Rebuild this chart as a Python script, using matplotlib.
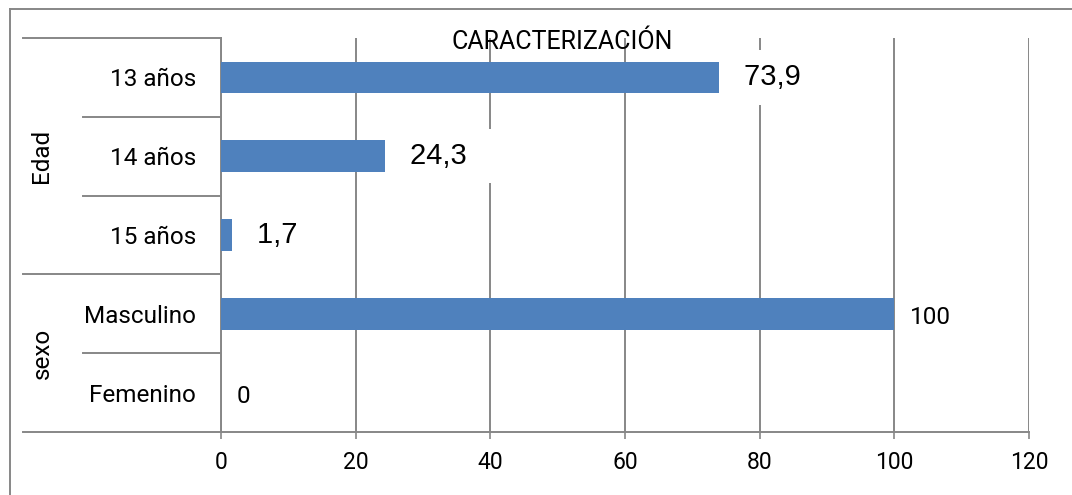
import matplotlib
matplotlib.use('Agg')
import matplotlib.pyplot as plt
from matplotlib.lines import Line2D
import matplotlib.transforms as mtransforms

plt.rcParams['font.family'] = ['Roboto', 'DejaVu Sans']

# Data (bottom to top)
categories = ['Femenino', 'Masculino', '15 años', '14 años', '13 años']
values = [0, 100, 1.7, 24.3, 73.9]
value_labels = ['0', '100', '1,7', '24,3', '73,9']
big_label = [False, False, True, True, True]
groups = ['sexo', 'Edad']
group_centers = [0.5, 3]
x_ticks = [0, 20, 40, 60, 80, 100, 120]

W, H = 1072, 495
fig = plt.figure(figsize=(W / 100, H / 100), dpi=100)
ax = fig.add_axes([221 / W, 1 - 432 / H, (1029 - 221) / W, (432 - 38) / H])

grid_col = '#878787'
bar_col = '#4F81BD'
fs = 16.5

ypos = list(range(len(categories)))
ax.barh(ypos, values, height=0.4, color=bar_col, zorder=3)

ax.set_xlim(0, 120)
ax.set_ylim(-0.5, len(categories) - 0.5)
ax.set_xticks(x_ticks)
ax.set_xticklabels([str(t) for t in x_ticks], fontsize=fs)
ax.set_yticks(ypos)
ax.set_yticklabels(categories, fontsize=17.5)
ax.tick_params(axis='y', length=0, pad=18)
ax.tick_params(axis='x', length=5, width=1.2, color=grid_col, pad=9)
ax.set_axisbelow(True)
ax.xaxis.grid(True, color=grid_col, linewidth=1.4)
for s in ['top', 'right']:
    ax.spines[s].set_visible(False)
for s in ['left', 'bottom']:
    ax.spines[s].set_color(grid_col)
    ax.spines[s].set_linewidth(1.4)

# data labels
for y, v, lab, big in zip(ypos, values, value_labels, big_label):
    if big:
        ax.annotate(lab + '  ', (v, y), xytext=(18, 0), textcoords='offset points',
                    ha='left', va='center', fontsize=21, family='Liberation Sans',
                    bbox=dict(boxstyle='square,pad=0.45', fc='white', ec='none'),
                    zorder=2.5)
    else:
        ax.annotate(lab, (v, y), xytext=(11, -3), textcoords='offset points',
                    ha='left', va='center', fontsize=17.5, zorder=2.5)

# category axis separators (x in figure fraction, y in data)
trans = mtransforms.blended_transform_factory(fig.transFigure, ax.transData)
seps = [(-0.5, 23), (0.5, 83), (1.5, 23), (2.5, 83), (3.5, 83), (4.5, 23)]
for yy, x0 in seps:
    fig.add_artist(Line2D([x0 / W, 221 / W], [yy, yy], transform=trans,
                          color=grid_col, linewidth=1.4))

for g, c in zip(groups, group_centers):
    fig.text(42 / W, c, g, transform=trans, rotation=90, ha='center',
             va='center', fontsize=17.5)

# title
fig.text(562 / W, 1 - 42 / H, 'CARACTERIZACIÓN', ha='center', va='center',
         fontsize=18)

# outer chart border (top and left visible)
fig.add_artist(Line2D([10 / W, 1.0], [1 - 9 / H, 1 - 9 / H],
                      transform=fig.transFigure, color=grid_col, linewidth=1.4))
fig.add_artist(Line2D([10 / W, 10 / W], [0, 1 - 9 / H],
                      transform=fig.transFigure, color=grid_col, linewidth=1.4))

fig.savefig('out.png', dpi=100, facecolor='white')
